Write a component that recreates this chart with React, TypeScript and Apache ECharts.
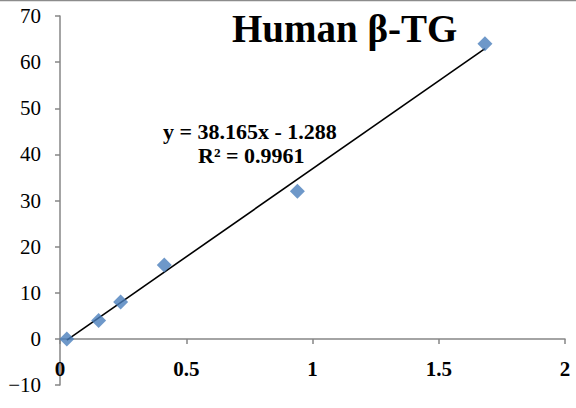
import React, { useEffect, useRef } from "react";
import * as echarts from "echarts";

const xValues = [0.027, 0.153, 0.24, 0.413, 0.94, 1.683];
const yValues = [0, 4, 8, 16, 32, 64];
const slope = 38.165;
const intercept = -1.288;
const titleText = "Human β-TG";
const equationText = "y = 38.165x - 1.288";
const r2Text = "R² = 0.9961";
const xTicks = { min: 0, max: 2, interval: 0.5 };
const yTicks = { min: -10, max: 70, interval: 10 };

const FONT = '"Liberation Serif", "Times New Roman", serif';

export default function App() {
  const ref = useRef<HTMLDivElement>(null);
  useEffect(() => {
    if (!ref.current) return;
    const chart = echarts.init(ref.current, null, { renderer: "svg" });
    const points = xValues.map((x, i) => [x, yValues[i]]);
    const xMin = Math.min(...xValues);
    const xMax = Math.max(...xValues);
    const trend = [xMin, xMax].map((x) => [x, slope * x + intercept]);
    chart.setOption({
      animation: false,
      backgroundColor: "#fff",
      grid: {
        left: 60,
        right: 11,
        top: 16,
        bottom: 23,
        containLabel: false,
        outerBoundsMode: "none",
      },
      xAxis: {
        type: "value",
        min: xTicks.min,
        max: xTicks.max,
        interval: xTicks.interval,
        axisLine: { onZero: true, lineStyle: { color: "#868686", width: 1.5 } },
        axisTick: { show: true, length: 5, lineStyle: { color: "#868686", width: 1.5 } },
        splitLine: { show: false },
        axisLabel: {
          margin: -27,
          fontFamily: FONT,
          fontWeight: "bold",
          fontSize: 21,
          color: "#000",
          formatter: (v: number) => String(v),
        },
      },
      yAxis: {
        type: "value",
        min: yTicks.min,
        max: yTicks.max,
        interval: yTicks.interval,
        axisLine: { show: true, onZero: false, lineStyle: { color: "#868686", width: 1.5 } },
        axisTick: { show: true, length: 5, lineStyle: { color: "#868686", width: 1.5 } },
        splitLine: { show: false },
        axisLabel: {
          margin: 19,
          fontFamily: FONT,
          fontSize: 21,
          color: "#000",
          formatter: (v: number) => (v < 0 ? "\u2212" + Math.abs(v) : String(v)),
        },
      },
      series: [
        {
          type: "line",
          data: trend,
          symbol: "none",
          lineStyle: { color: "#000", width: 1.6 },
          z: 2,
        },
        {
          type: "scatter",
          data: points,
          symbol: "diamond",
          symbolSize: 15,
          itemStyle: { color: "#4A7EBB" },
          z: 3,
        },
      ],
      graphic: [
        {
          type: "line",
          shape: { x1: 0, y1: 0.5, x2: 576, y2: 0.5 },
          style: { stroke: "#8c8c8c", lineWidth: 1.5 },
        },
        {
          type: "text",
          left: 232,
          top: 9,
          style: {
            text: titleText,
            font: `bold 39px ${FONT}`,
            fill: "#000",
          },
        },
        {
          type: "text",
          left: 163,
          top: 120,
          style: {
            text: equationText,
            font: `bold 22px ${FONT}`,
            fill: "#000",
          },
        },
        {
          type: "text",
          left: 198,
          top: 144,
          style: {
            text: r2Text,
            font: `bold 22px ${FONT}`,
            fill: "#000",
          },
        },
      ],
    });
    return () => chart.dispose();
  }, []);
  return (
    <div
      ref={ref}
      style={{ position: "fixed", left: 0, top: 0, width: 576, height: 408 }}
    />
  );
}
